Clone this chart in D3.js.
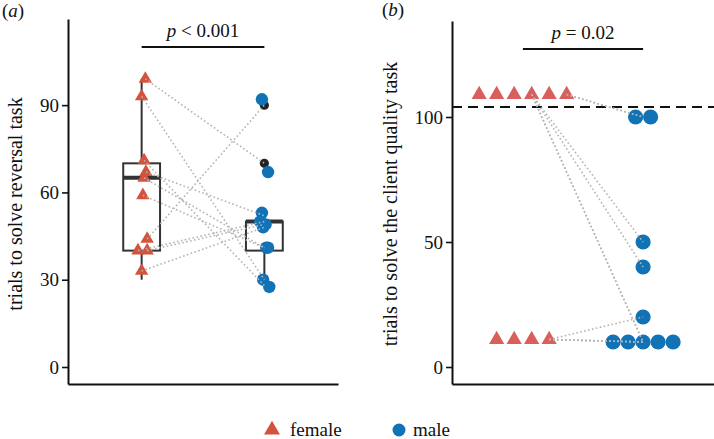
<!DOCTYPE html>
<html><head><meta charset="utf-8">
<script src="https://cdn.jsdelivr.net/npm/d3@7"></script>
<style>
body{margin:0;background:#fff}
svg{display:block}
svg text{font-family:'Liberation Serif','DejaVu Serif','Noto Serif',serif !important;fill:#111}
</style>
</head><body>
<svg id="chart" width="714" height="439" font-family="Liberation Serif, DejaVu Serif, serif"></svg>
<script>
// ---------- DATA ----------
const groups = ["female", "male"];

// Panel (a): reversal task (paired individuals, same index = same pair)
const revFemale       = [99, 93, 71, 67, 65, 59, 44, 40, 40, 33];
const revFemaleJitter = [0.03, 0.0, 0.02, 0.035, 0.02, 0.01, 0.045, -0.03, 0.045, 0.0];
const revMale         = [67, 30, 27.5, 53, 41, 41, 92, 50, 49, 48];
const revMaleJitter   = [0.03, -0.01, 0.04, -0.02, 0.015, 0.03, -0.02, -0.035, 0.01, -0.01];
const revMaleLineEnd  = [70, 30, 28, 52, 41, 41, 90, 50, 49, 48];
const revBoxFemale    = [30, 40, 65, 70, 99];   // lower whisker, Q1, median, Q3, upper whisker
const revBoxMale      = [30, 40, 50, 50, 50];
const revOutliersMale = [90, 70];
const revTicks        = [0, 30, 60, 90];
const revPLabel       = "< 0.001";

// Panel (b): client quality task
const cqFemale   = [109, 109, 109, 109, 109, 109, 11, 11, 11, 11];
const cqMale     = [100, 100, 50, 40, 10, 10, 20, 10, 10, 10];
const cqLineSlot = [5, 5, 3, 3, 3, 3, 3, 3, 3, 3]; // swarm slot of the female each line starts from
const cqCriterion = 104;
const cqTicks    = [0, 50, 100];
const cqPLabel   = "= 0.02";

const colFemaleA = "#d4533c";
const colFemaleB = "#d95f5c";
const colMale = "#1272b6";
const lineGrey = "#b4b4b4";
const FONT = "'Liberation Serif','DejaVu Serif',serif";

// ---------- DRAW ----------
const svg = d3.select("#chart");
const tri = (area) => d3.symbol().type(d3.symbolTriangle).size(area)();

function axes(g, y, x, ticks) {
  const ay = g.append("g").attr("transform", `translate(${x.range()[0]},0)`)
    .call(d3.axisLeft(y).tickValues(ticks).tickSize(6).tickSizeOuter(0).tickPadding(3));
  ay.attr("font-family", FONT);
  ay.select(".domain").attr("stroke", "#111").attr("stroke-width", 2);
  ay.selectAll(".tick line").attr("stroke", "#111").attr("stroke-width", 1.6);
  ay.selectAll(".tick text").attr("font-size", 19).attr("fill", "#1a1a1a");
  const ax = g.append("g").attr("transform", `translate(0,${y.range()[0]})`)
    .call(d3.axisBottom(x).tickValues([]).tickSizeOuter(0));
  ax.select(".domain").attr("stroke", "#111").attr("stroke-width", 2);
}

function pText(g, x0, x1, yBar, label) {
  g.append("line").attr("x1", x0).attr("x2", x1).attr("y1", yBar).attr("y2", yBar)
    .attr("stroke", "#111").attr("stroke-width", 2);
  const t = g.append("text").attr("x", (x0 + x1) / 2).attr("y", yBar - 10)
    .attr("text-anchor", "middle").attr("font-size", 19);
  t.append("tspan").attr("font-style", "italic").text("p");
  t.append("tspan").text(" " + label);
}

function yTitle(g, x, yMid, label) {
  g.append("text").attr("transform", `translate(${x},${yMid}) rotate(-90)`)
    .attr("text-anchor", "middle").attr("font-size", 20).text(label);
}

// ----- Panel (a)
const gA = svg.append("g");
const xA = d3.scalePoint().domain(groups).range([68, 338]).padding(0.6);
const yA = d3.scaleLinear().domain([-5.84, 119.6]).range([384, 19]);
const stepA = xA.step();
const boxW = stepA * 0.3;

[[groups[0], revBoxFemale], [groups[1], revBoxMale]].forEach(([grp, b]) => {
  const cx = xA(grp);
  const bg = gA.append("g");
  bg.append("line").attr("x1", cx).attr("x2", cx).attr("y1", yA(b[0])).attr("y2", yA(b[1]))
    .attr("stroke", "#333").attr("stroke-width", 2);
  bg.append("line").attr("x1", cx).attr("x2", cx).attr("y1", yA(b[3])).attr("y2", yA(b[4]))
    .attr("stroke", "#333").attr("stroke-width", 2);
  bg.append("rect").attr("x", cx - boxW / 2).attr("width", boxW)
    .attr("y", yA(b[3])).attr("height", yA(b[1]) - yA(b[3]))
    .attr("fill", "#fff").attr("stroke", "#333").attr("stroke-width", 2);
  bg.append("line").attr("x1", cx - boxW / 2).attr("x2", cx + boxW / 2)
    .attr("y1", yA(b[2])).attr("y2", yA(b[2])).attr("stroke", "#333").attr("stroke-width", 4);
});
gA.selectAll(".outl").data(revOutliersMale).join("circle")
  .attr("cx", xA(groups[1])).attr("cy", d => yA(d)).attr("r", 4.6).attr("fill", "#222");

axes(gA, yA, xA, revTicks);

gA.selectAll(".fa").data(revFemale).join("path")
  .attr("d", tri(78))
  .attr("transform", (d, i) => `translate(${xA(groups[0]) + revFemaleJitter[i] * stepA},${yA(d)})`)
  .attr("fill", colFemaleA);
gA.selectAll(".ma").data(revMale).join("circle")
  .attr("cx", (d, i) => xA(groups[1]) + revMaleJitter[i] * stepA)
  .attr("cy", d => yA(d)).attr("r", 6.2).attr("fill", colMale);
gA.selectAll(".la").data(revFemale).join("line")
  .attr("x1", (d, i) => xA(groups[0]) + revFemaleJitter[i] * stepA).attr("y1", d => yA(d))
  .attr("x2", xA(groups[1])).attr("y2", (d, i) => yA(revMaleLineEnd[i]))
  .attr("stroke", lineGrey).attr("stroke-width", 1.6).attr("stroke-dasharray", "1.6,2.4");

pText(gA, xA(groups[0]), xA(groups[1]), 47, revPLabel);
yTitle(gA, 22, 204, "trials to solve reversal task");
gA.append("text").attr("x", 2).attr("y", 17).attr("font-size", 19)
  .html('(<tspan font-style="italic">a</tspan>)');

// ----- Panel (b)
const gB = svg.append("g");
const xB = d3.scalePoint().domain(groups).range([452, 714]).padding(0.59);
const yB = d3.scaleLinear().domain([-6.8, 138.4]).range([384, 21]);

axes(gB, yB, xB, cqTicks);

gB.append("line").attr("x1", 452).attr("x2", 714)
  .attr("y1", yB(cqCriterion)).attr("y2", yB(cqCriterion))
  .attr("stroke", "#111").attr("stroke-width", 2.2).attr("stroke-dasharray", "10,6");

function swarm(values, spacing) {
  const counts = d3.rollup(values, v => v.length, d => d);
  const seen = new Map();
  return values.map(v => {
    const k = seen.get(v) || 0; seen.set(v, k + 1);
    const n = counts.get(v);
    return { v, slot: k, off: (k - (n - 1) / 2) * spacing };
  });
}
const triSpace = 17.5, circSpace = 15;
const fSw = swarm(cqFemale, triSpace);
const mSw = swarm(cqMale, circSpace);

gB.selectAll(".fb").data(fSw).join("path")
  .attr("d", tri(100))
  .attr("transform", d => `translate(${xB(groups[0]) + d.off},${yB(d.v)})`)
  .attr("fill", colFemaleB);
gB.selectAll(".mb").data(mSw).join("circle")
  .attr("cx", d => xB(groups[1]) + d.off).attr("cy", d => yB(d.v))
  .attr("r", 7.6).attr("fill", colMale);

gB.selectAll(".lb").data(cqFemale).join("line")
  .attr("x1", (d, i) => {
    const n = cqFemale.filter(v => v === d).length;
    return xB(groups[0]) + (cqLineSlot[i] - (n - 1) / 2) * triSpace;
  })
  .attr("y1", d => yB(d))
  .attr("x2", xB(groups[1])).attr("y2", (d, i) => yB(cqMale[i]))
  .attr("stroke", lineGrey).attr("stroke-width", 1.6).attr("stroke-dasharray", "1.6,2.4");

pText(gB, xB(groups[0]), xB(groups[1]), 49, cqPLabel);
yTitle(gB, 397, 204, "trials to solve the client quality task");
gB.append("text").attr("x", 382).attr("y", 16).attr("font-size", 19)
  .html('(<tspan font-style="italic">b</tspan>)');

// ----- Legend
const lg = svg.append("g");
lg.append("path").attr("d", tri(110)).attr("transform", "translate(272,430)").attr("fill", colFemaleA);
lg.append("text").attr("x", 290).attr("y", 436).attr("font-size", 19).text(groups[0]);
lg.append("circle").attr("cx", 399).attr("cy", 430).attr("r", 6.5).attr("fill", colMale);
lg.append("text").attr("x", 413).attr("y", 436).attr("font-size", 19).text(groups[1]);
</script>
</body></html>
